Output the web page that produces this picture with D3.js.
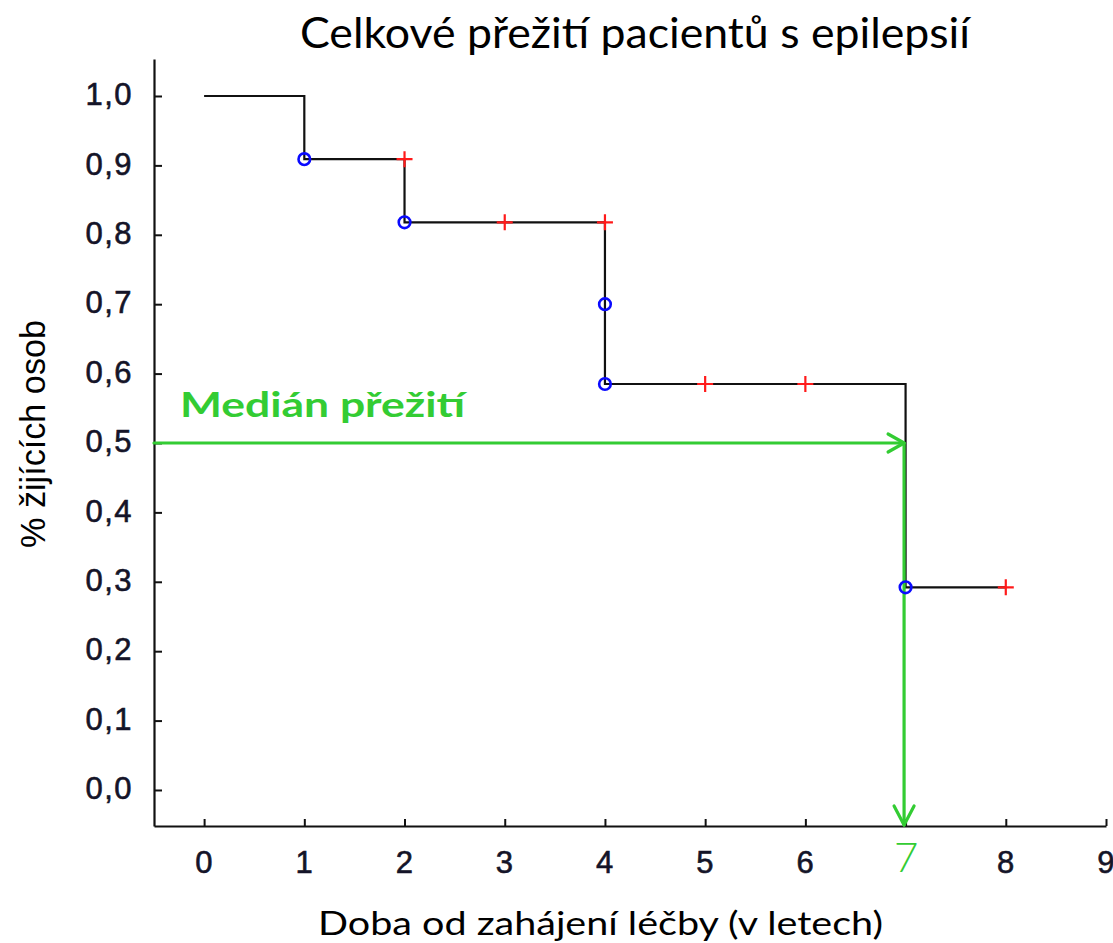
<!DOCTYPE html>
<html>
<head>
<meta charset="utf-8">
<script src="https://cdn.jsdelivr.net/npm/d3@7"></script>
<style>
  html, body { margin: 0; padding: 0; background: #fff; }
  svg { display: block; }
</style>
</head>
<body>
<svg id="chart" width="1113" height="943"></svg>
<script>
// ---- data ----
const titleText = "Celkové přežití pacientů s epilepsií";
const xLabelText = "Doba od zahájení léčby (v letech)";
const yLabelText = "% žijících osob";
const medianLabel = "Medián přežití";

const stepTimes = [0, 1, 2, 4, 7, 8];
const stepSurv  = [1.0, 0.909, 0.818, 0.585, 0.292, 0.292];

const eventTimes = [1, 2, 4, 4, 7];
const eventSurv  = [0.909, 0.818, 0.700, 0.585, 0.292];

const censorTimes = [2, 3, 4, 5, 6, 8];
const censorSurv  = [0.909, 0.818, 0.818, 0.585, 0.585, 0.292];

const xTicks = [0, 1, 2, 3, 4, 5, 6, 7, 8, 9];
const yTicks = [0, 0.1, 0.2, 0.3, 0.4, 0.5, 0.6, 0.7, 0.8, 0.9, 1.0];

const medianSurv = 0.5;
const medianTime = 7;

// ---- drawing ----
const svg = d3.select("#chart");
const green = "#33cc33";

const x = d3.scaleLinear().domain([-0.5, 9]).range([154, 1106]);
const y = d3.scaleLinear().domain([-0.0519, 1.0533]).range([826, 59]);

// axes
const yAxis = d3.axisLeft(y).tickValues(yTicks).tickSizeInner(-8).tickSizeOuter(0).tickPadding(21)
  .tickFormat(d => d.toFixed(1).replace(".", ","));
const gy = svg.append("g").attr("transform", `translate(${x.range()[0]},0)`).call(yAxis);

const xAxis = d3.axisBottom(x).tickValues(xTicks).tickSizeInner(-7).tickSizeOuter(0).tickPadding(25)
  .tickFormat(d3.format("d"));
const gx = svg.append("g").attr("transform", `translate(0,${y.range()[0]})`).call(xAxis);

[gx, gy].forEach(g => {
  g.select(".domain").attr("stroke", "#111").attr("stroke-width", 2.2);
  g.selectAll(".tick line").attr("stroke", "#111").attr("stroke-width", 2);
  g.selectAll(".tick text")
    .attr("fill", "#141428")
    .attr("stroke", "#141428")
    .attr("stroke-width", 0.6)
    .style("font-family", "'Liberation Sans Narrow', 'Liberation Sans', Arial, sans-serif")
    .style("font-size", "31px")
    .style("letter-spacing", "1.5px");
});
gy.selectAll(".tick text").attr("dy", "0.28em");
gx.selectAll(".tick text").attr("dy", "0.71em");
gx.selectAll(".tick text").filter(d => d === medianTime)
  .attr("fill", green)
  .attr("stroke", "none")
  .style("font-family", "Lato, 'Open Sans', sans-serif")
  .style("font-size", "42px")
  .style("font-weight", "300")
  .style("letter-spacing", "0px")
  .attr("dy", "0.5em");

// survival step curve
const stepData = stepTimes.map((t, i) => [t, stepSurv[i]]);
const line = d3.line().x(d => x(d[0])).y(d => y(d[1])).curve(d3.curveStepAfter);
svg.append("path").datum(stepData)
  .attr("d", line)
  .attr("fill", "none")
  .attr("stroke", "#111")
  .attr("stroke-width", 2.2);

// censor marks
const cs = 8;
svg.append("g").selectAll("path").data(censorTimes.map((t, i) => [t, censorSurv[i]]))
  .join("path")
  .attr("d", d => `M${x(d[0]) - cs},${y(d[1])}H${x(d[0]) + cs}M${x(d[0])},${y(d[1]) - cs}V${y(d[1]) + cs}`)
  .attr("stroke", "#ff1a1a")
  .attr("stroke-width", 2.2)
  .attr("fill", "none");

// median arrows
const gm = svg.append("g").attr("stroke", green).attr("stroke-width", 3.2).attr("fill", "none")
  .attr("stroke-linecap", "round").attr("stroke-linejoin", "round");
const mx = x(medianTime) - 1.5, my = y(medianSurv);
gm.append("path").attr("d", `M${x.range()[0]},${my}H${mx}`);
gm.append("path").attr("d", `M${mx - 16},${my - 9}L${mx},${my}L${mx - 16},${my + 9}`);
const by = y.range()[0] - 1;
gm.append("path").attr("d", `M${mx},${my}V${by}`);
gm.append("path").attr("d", `M${mx - 10},${by - 19}L${mx},${by}L${mx + 10},${by - 19}`);

// event marks (circles)
svg.append("g").selectAll("circle").data(eventTimes.map((t, i) => [t, eventSurv[i]]))
  .join("circle")
  .attr("cx", d => x(d[0]))
  .attr("cy", d => y(d[1]))
  .attr("r", 5.8)
  .attr("fill", "none")
  .attr("stroke", "#0a0aff")
  .attr("stroke-width", 2.6);

// median label
svg.append("text")
  .attr("x", 180).attr("y", 417)
  .attr("fill", green)
  .style("font-family", "Lato, 'Open Sans', sans-serif")
  .style("font-weight", "bold")
  .style("font-size", "35px")
  .attr("textLength", 285)
  .attr("lengthAdjust", "spacingAndGlyphs")
  .text(medianLabel);

// title
svg.append("text")
  .attr("x", 300).attr("y", 48)
  .attr("fill", "#000")
  .style("font-family", "Lato, 'Open Sans', sans-serif")
  .style("font-size", "42px")
  .attr("textLength", 670)
  .attr("lengthAdjust", "spacingAndGlyphs")
  .text(titleText);

// x label
svg.append("text")
  .attr("x", 318).attr("y", 935)
  .attr("fill", "#000")
  .style("font-family", "Lato, 'Open Sans', sans-serif")
  .style("font-size", "33px")
  .attr("textLength", 565)
  .attr("lengthAdjust", "spacingAndGlyphs")
  .text(xLabelText);

// y label
svg.append("text")
  .attr("transform", "translate(45,434) rotate(-90)")
  .attr("text-anchor", "middle")
  .attr("fill", "#000")
  .style("font-family", "'Liberation Sans', Arial, sans-serif")
  .style("font-size", "35px")
  .attr("textLength", 228)
  .attr("lengthAdjust", "spacingAndGlyphs")
  .text(yLabelText);
</script>
</body>
</html>
